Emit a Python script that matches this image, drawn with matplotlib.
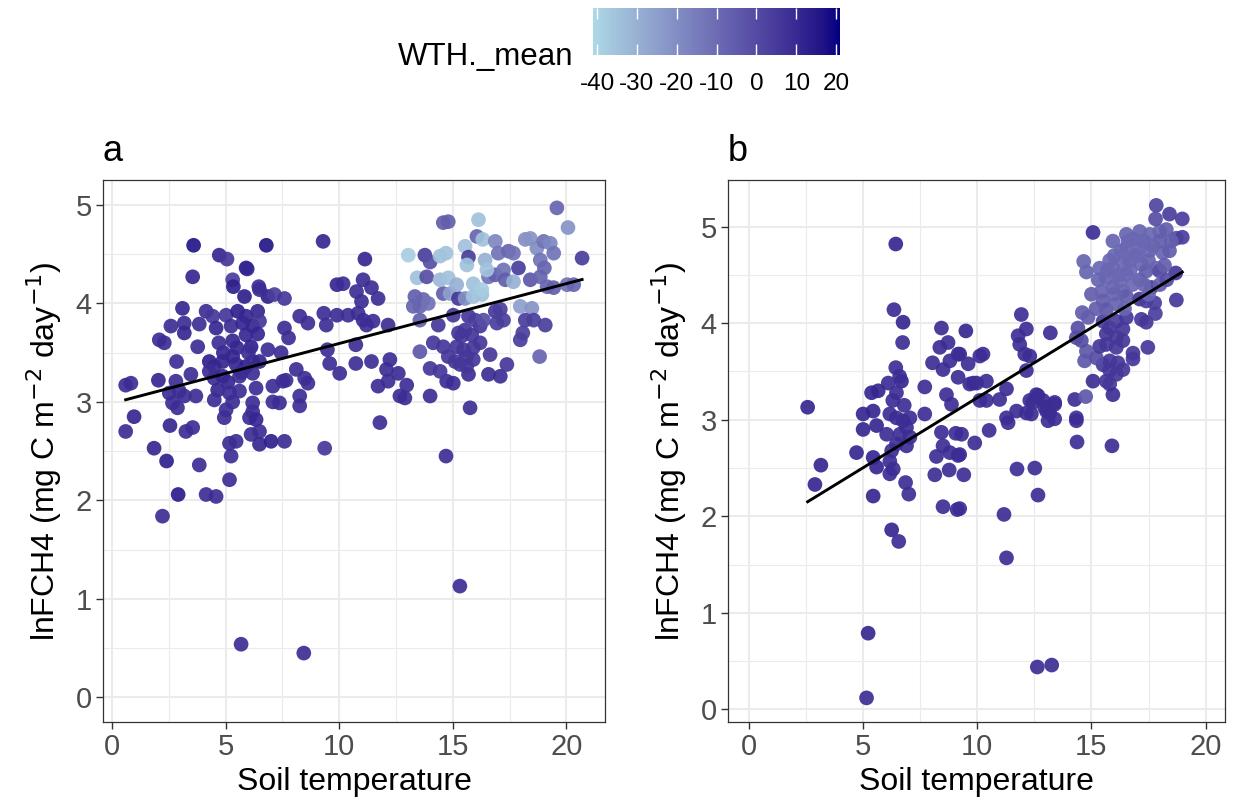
import numpy as np
import matplotlib
matplotlib.use("Agg")
import matplotlib.pyplot as plt
import matplotlib.colors as mcolors
from matplotlib.ticker import MultipleLocator

plt.rcParams['font.family'] = ['Liberation Sans', 'DejaVu Sans']

# ---- panel a: soil temperature, lnFCH4, WTH._mean
a_temp = [
    3.59, 6.79, 9.29, 4.72, 5.06, 5.9, 5.95, 3.55,
    5.31, 5.34, 6.46, 9.9, 5.83, 6.86, 7.15, 7.59,
    6.49, 3.1, 4.14, 4.43, 5.02, 5.53, 5.9, 6.41,
    8.26, 8.62, 9.32, 9.9, 10.39, 10.83, 2.59, 3.18,
    3.84, 4.58, 5.24, 5.75, 6.19, 6.49, 7.59, 7.77,
    9.43, 3.18, 2.08, 2.3, 5.31, 5.9, 6.41, 3.77,
    6.12, 6.86, 7.44, 9.48, 2.84, 4.28, 4.5, 4.87,
    5.31, 5.46, 5.9, 6.19, 6.49, 8.11, 9.58, 10.02,
    10.73, 4.5, 4.87, 5.61, 6.19, 7.66, 8.48, 4.9,
    5.5, 5.7, 5.1, 6.0, 4.7, 0.6, 0.83, 2.04,
    2.81, 3.47, 2.52, 2.96, 3.18, 2.66, 2.88, 3.69,
    4.28, 4.65, 4.5, 5.17, 5.31, 5.02, 4.94, 5.61,
    6.34, 6.19, 6.19, 6.05, 6.34, 7.08, 7.52, 7.08,
    7.37, 8.62, 8.26, 8.26, 0.97, 0.6, 2.55, 3.25,
    3.55, 1.85, 2.4, 3.84, 5.17, 5.46, 5.24, 5.17,
    6.12, 6.49, 6.49, 7.0, 7.59, 2.91, 4.14, 4.58,
    2.22, 9.36, 11.79, 15.76, 14.7, 14.0, 12.67, 12.89,
    11.71, 12.15, 12.97, 16.57, 17.09, 14.73, 15.02, 15.69,
    5.68, 8.44, 15.31, 10.73, 12.15, 11.05, 11.49, 11.05,
    11.42, 11.71, 11.13, 10.17, 10.76, 10.98, 11.2, 12.23,
    12.08, 12.6, 11.42, 14.14, 14.58, 14.8, 15.1, 15.32,
    15.61, 15.9, 16.2, 13.55, 14.0, 14.44, 16.64, 17.38,
    18.82, 15.83, 15.39, 15.17, 15.47, 15.9, 15.61, 15.25,
    15.54, 16.2, 13.55, 14.36, 15.02, 15.69, 15.98, 16.35,
    16.87, 17.09, 17.23, 16.94, 17.97, 18.48, 18.19, 18.56,
    19.07, 18.08, 17.97, 13.33, 13.7, 13.55, 13.26, 13.92,
    14.58, 14.88, 15.25, 15.54, 15.9, 16.28, 13.43, 13.85,
    14.44, 14.8, 15.17, 15.9, 16.28, 16.57, 16.87, 17.23,
    17.31, 17.67, 18.41, 18.85, 19.15, 19.44, 20.03, 20.32,
    19.58, 20.07, 14.58, 14.8, 16.13, 16.06, 16.32, 16.87,
    15.54, 13.04, 13.77, 14.0, 14.44, 14.7, 15.69, 15.62,
    16.42, 16.5, 17.0, 17.45, 17.67, 17.89, 18.19, 18.41,
    18.7, 19.0, 19.29, 19.44, 18.85, 19.03, 20.69,
]
a_flux = [
    4.59, 4.59, 4.63, 4.49, 4.45, 4.36, 4.35, 4.27,
    4.24, 4.17, 4.17, 4.19, 4.07, 4.07, 4.09, 4.05,
    4.14, 3.95, 3.92, 3.87, 3.88, 3.92, 3.87, 3.92,
    3.87, 3.8, 3.9, 3.88, 3.88, 3.9, 3.77, 3.8,
    3.79, 3.75, 3.77, 3.8, 3.77, 3.82, 3.75, 3.65,
    3.78, 3.7, 3.63, 3.6, 3.62, 3.68, 3.69, 3.56,
    3.56, 3.53, 3.5, 3.53, 3.41, 3.41, 3.36, 3.41,
    3.46, 3.38, 3.36, 3.41, 3.41, 3.33, 3.39, 3.29,
    3.39, 3.24, 3.26, 3.26, 3.29, 3.22, 3.24, 3.5,
    3.55, 3.3, 3.2, 3.5, 3.6, 3.17, 3.19, 3.22,
    3.21, 3.28, 3.09, 3.11, 3.06, 2.99, 2.94, 3.06,
    3.31, 3.12, 3.02, 3.09, 3.0, 2.92, 2.84, 3.11,
    3.14, 2.99, 2.9, 2.84, 2.82, 3.16, 3.21, 3.0,
    2.99, 3.19, 3.06, 2.96, 2.85, 2.7, 2.76, 2.7,
    2.74, 2.53, 2.4, 2.36, 2.58, 2.6, 2.45, 2.21,
    2.67, 2.7, 2.57, 2.6, 2.6, 2.06, 2.06, 2.04,
    1.84, 2.53, 2.79, 2.94, 2.45, 3.06, 3.06, 3.04,
    3.16, 3.21, 3.17, 3.28, 3.26, 3.21, 3.19, 3.28,
    0.54, 0.45, 1.13, 3.58, 3.78, 3.83, 3.82, 4.24,
    4.16, 4.05, 4.45, 4.2, 4.12, 4.02, 3.78, 3.43,
    3.33, 3.29, 3.41, 3.6, 3.56, 3.46, 3.41, 3.38,
    3.36, 3.43, 3.6, 3.51, 3.34, 3.31, 3.48, 3.38,
    3.46, 3.68, 3.67, 3.56, 3.53, 3.55, 3.46, 3.7,
    3.73, 3.77, 3.83, 3.78, 3.88, 3.87, 3.83, 3.83,
    3.92, 3.94, 3.83, 3.8, 3.97, 3.95, 3.83, 3.83,
    3.78, 3.7, 3.63, 4.07, 4.04, 3.97, 3.97, 4.0,
    4.1, 4.1, 4.05, 4.05, 4.07, 4.09, 4.26, 4.27,
    4.24, 4.26, 4.19, 4.2, 4.14, 4.27, 4.29, 4.34,
    4.24, 4.22, 4.24, 4.27, 4.17, 4.16, 4.19, 4.19,
    4.97, 4.77, 4.82, 4.83, 4.85, 4.68, 4.65, 4.63,
    4.58, 4.49, 4.49, 4.42, 4.48, 4.51, 4.47, 4.39,
    4.44, 4.34, 4.51, 4.53, 4.51, 4.36, 4.65, 4.66,
    4.56, 4.63, 4.61, 4.51, 4.44, 4.36, 4.46,
]
a_wth = [
    16, 16, 11, 11, 6, 14, 11, 11,
    4, 13, 9, 11, 13, 13, 4, 6,
    9, 11, 9, 6, 6, 13, 11, 11,
    9, 9, 9, 9, 9, 9, 9, 9,
    9, 11, 9, 11, 11, 6, 9, 9,
    9, 11, 9, 9, 11, 11, 11, 9,
    13, 9, 9, 9, 9, 13, 11, 11,
    11, 11, 13, 9, 11, 9, 9, 9,
    9, 9, 11, 9, 9, 9, 9, 11,
    11, 9, 11, 9, 9, 9, 9, 11,
    9, 9, 9, 9, 9, 9, 9, 9,
    9, 11, 9, 9, 9, 9, 9, 9,
    9, 9, 9, 9, 11, 9, 9, 9,
    9, 9, 9, 9, 11, 9, 11, 9,
    9, 11, 13, 9, 9, 9, 9, 9,
    9, 9, 11, 13, 9, 14, 9, 9,
    9, 6, 9, 9, 9, 9, 9, 9,
    9, 9, 9, 9, 9, 9, 9, 9,
    9, 9, 9, 9, 9, 9, 9, 9,
    9, 9, 11, 9, 9, 9, 9, 9,
    9, 9, 9, 6, 6, 6, 6, 6,
    6, 6, 6, -4, 6, 6, 6, 6,
    -8, 6, 6, 6, 6, 6, 6, 6,
    6, 6, -6, 6, 6, 6, 4, -1,
    6, 4, 4, 4, -25, -22, 4, 4,
    4, 4, 4, -6, -8, -8, -8, -12,
    -6, -25, 6, -20, -35, -35, -35, -1,
    -32, -35, -30, -35, -38, -12, -6, -12,
    -6, -30, -4, -8, -8, -6, -12, -8,
    -8, -22, -6, -6, -35, -8, -35, -18,
    -35, -38, 4, -1, -35, -35, 4, -35,
    -30, -35, -12, -8, -12, 4, -20, -22,
    -20, -12, -18, -12, -12, -8, 4,
]

# ---- panel b
b_temp = [
    6.43, 6.35, 6.75, 6.73, 8.43, 9.50, 8.36, 8.72,
    8.04, 8.50, 8.80, 9.16, 9.60, 10.11, 6.43, 6.68,
    6.10, 6.46, 5.37, 5.66, 7.70, 8.65, 9.16, 9.67,
    9.97, 2.57, 3.15, 2.89, 4.71, 5.00, 5.44, 5.00,
    5.59, 6.03, 6.17, 6.46, 6.75, 7.05, 6.90, 6.61,
    7.05, 6.46, 6.90, 6.25, 5.44, 5.59, 6.17, 6.32,
    6.17, 5.44, 6.86, 7.00, 7.70, 8.43, 9.06, 8.50,
    8.21, 8.80, 9.16, 8.14, 8.77, 9.41, 8.50, 9.12,
    6.25, 6.56, 9.89, 8.87, 12.15, 12.37, 12.66, 12.44,
    12.95, 13.17, 13.39, 13.10, 13.39, 11.35, 10.52, 9.31,
    9.23, 9.23, 14.34, 14.37, 15.07, 15.80, 15.94, 15.90,
    11.74, 12.52, 12.66, 11.17, 11.28, 5.22, 5.15, 12.63,
    13.26, 11.93, 12.15, 11.79, 11.86, 12.08, 12.30, 12.15,
    13.20, 9.23, 10.25, 9.82, 10.40, 11.28, 10.98, 10.40,
    10.11, 12.59, 12.30, 12.88, 13.39, 11.72, 13.03, 14.27,
    14.75, 11.28, 14.34, 15.65, 15.51, 15.80, 16.16, 16.38,
    15.80, 16.09, 14.78, 14.70, 15.22, 17.47, 16.82, 16.82,
    15.65, 16.09, 16.38, 15.65, 16.09, 15.36, 14.41, 14.34,
    14.56, 14.60, 14.85, 15.51, 15.80, 16.09, 16.53, 16.38,
    17.19, 17.40, 15.00, 15.44, 15.94, 16.38, 15.51, 15.65,
    16.09, 16.53, 17.11, 17.40, 17.77, 18.72, 15.65, 16.24,
    16.53, 17.11, 17.62, 14.66, 14.78, 15.36, 15.94, 16.38,
    16.67, 17.19, 17.40, 17.84, 17.99, 18.69, 16.53, 17.11,
    17.55, 18.13, 18.42, 15.07, 15.94, 16.53, 16.82, 17.11,
    17.55, 17.99, 18.28, 18.72, 18.98, 17.84, 18.42, 18.98,
    17.81, 16.0, 16.9, 17.5, 16.2, 17.3, 18.0, 6.3,
    6.8, 6.6, 15.3, 15.8, 16.3, 16.7, 17.0, 17.3,
    17.7, 18.2, 18.5, 16.0, 15.7, 16.8, 17.5, 18.0,
    16.45, 15.2, 17.8, 18.3, 16.6, 17.2,
]
b_flux = [
    4.82, 4.14, 4.01, 3.80, 3.95, 3.92, 3.75, 3.80,
    3.59, 3.52, 3.61, 3.68, 3.58, 3.66, 3.54, 3.40,
    3.38, 3.28, 3.28, 3.30, 3.34, 3.26, 3.44, 3.37,
    3.38, 3.13, 2.53, 2.33, 2.66, 3.06, 3.09, 2.90,
    2.94, 2.85, 3.06, 3.02, 2.99, 3.02, 2.92, 2.85,
    2.82, 2.75, 2.73, 2.68, 2.61, 2.51, 2.57, 2.49,
    2.44, 2.21, 2.35, 2.23, 3.06, 2.87, 2.86, 2.73,
    2.62, 2.66, 2.63, 2.43, 2.48, 2.43, 2.10, 2.07,
    1.86, 1.74, 2.76, 3.16, 3.07, 3.06, 3.25, 3.18,
    3.13, 3.07, 3.16, 2.99, 3.01, 2.97, 2.89, 2.85,
    2.64, 2.08, 2.99, 2.77, 3.40, 3.37, 3.26, 2.73,
    2.49, 2.50, 2.22, 2.02, 1.57, 0.79, 0.12, 0.44,
    0.46, 4.09, 3.94, 3.87, 3.78, 3.68, 3.66, 3.51,
    3.90, 3.68, 3.68, 3.38, 3.40, 3.32, 3.21, 3.20,
    3.20, 3.26, 3.20, 3.20, 3.18, 3.09, 3.09, 3.21,
    3.24, 3.02, 3.02, 3.40, 3.57, 3.61, 3.59, 3.52,
    3.51, 3.47, 3.71, 3.61, 3.64, 3.75, 3.69, 3.63,
    3.89, 3.85, 3.82, 3.78, 3.75, 3.76, 3.95, 3.85,
    3.82, 4.11, 4.06, 4.02, 3.95, 4.02, 4.06, 3.94,
    4.04, 4.01, 4.30, 4.33, 4.37, 4.33, 4.23, 4.14,
    4.20, 4.28, 4.25, 4.23, 4.21, 4.24, 4.47, 4.44,
    4.51, 4.45, 4.37, 4.64, 4.53, 4.57, 4.57, 4.63,
    4.64, 4.61, 4.54, 4.57, 4.54, 4.52, 4.78, 4.78,
    4.75, 4.73, 4.75, 4.94, 4.85, 4.92, 4.87, 4.95,
    4.92, 4.95, 4.97, 4.88, 4.89, 5.22, 5.13, 5.08,
    5.08, 4.70, 4.70, 4.65, 4.50, 4.85, 4.85, 3.20,
    3.15, 3.45, 4.45, 4.65, 4.75, 4.55, 4.70, 4.40,
    4.80, 4.60, 4.85, 4.30, 4.55, 4.40, 4.30, 4.40,
    4.15, 4.15, 4.10, 4.45, 4.85, 4.85,
]
b_wth = [
    11, 9, 11, 9, 9, 11, 9, 9,
    9, 9, 9, 9, 9, 9, 9, 11,
    9, 9, 11, 11, 9, 9, 9, 9,
    9, 11, 11, 11, 11, 11, 11, 11,
    11, 9, 9, 9, 9, 9, 9, 9,
    9, 9, 9, 9, 11, 11, 9, 9,
    9, 11, 9, 9, 9, 9, 9, 9,
    9, 9, 9, 9, 9, 9, 9, 9,
    11, 9, 9, 9, 9, 9, 9, 9,
    9, 9, 9, 9, 9, 9, 9, 9,
    9, 9, 9, 9, 9, 6, 9, 9,
    9, 9, 9, 9, 9, 11, 9, 9,
    9, 9, 9, 9, 9, 9, 9, 9,
    9, 9, 9, 9, 9, 9, 9, 9,
    9, 9, 9, 9, 9, 9, 9, 9,
    -4, 9, 9, 6, 6, 6, 6, 6,
    6, 6, -4, -4, -1, 6, 6, 6,
    6, 6, 6, 6, 6, 6, -1, -1,
    -1, -6, -6, 4, 6, 4, 6, 6,
    6, 6, -6, -8, -8, -8, -6, -4,
    -8, -6, 6, 4, 4, 6, -8, -9,
    -9, -6, 6, -8, -8, -9, -9, -9,
    -9, -9, -6, -8, -1, 6, -9, -9,
    -9, -8, -6, 9, -8, -8, -9, -8,
    -9, -8, -6, -1, 4, 2, 4, 4,
    -1, -9, -9, -8, -9, -8, -6, 9,
    9, 9, -8, -9, -9, -9, -9, -8,
    -8, -6, -6, -8, -9, -9, -8, -6,
    -8, -6, 4, -1, -9, -9,
]

wth_low, wth_high = -41, 21
wth_ticks = [-40, -30, -20, -10, 0, 10, 20]

# ---- lightblue -> navy gradient interpolated in Lab (like ggplot's default)
M = np.array([[0.4124, 0.3576, 0.1805],
              [0.2126, 0.7152, 0.0722],
              [0.0193, 0.1192, 0.9505]])
WHITE = np.array([0.95047, 1.0, 1.08883])


def to_lab(col):
    c = np.array(mcolors.to_rgb(col))
    c = np.where(c > 0.04045, ((c + 0.055) / 1.055) ** 2.4, c / 12.92)
    xyz = M @ c / WHITE
    f = np.where(xyz > 0.008856, np.cbrt(xyz), 7.787 * xyz + 16 / 116)
    return np.array([116 * f[1] - 16, 500 * (f[0] - f[1]), 200 * (f[1] - f[2])])


def from_lab(lab):
    fy = (lab[0] + 16) / 116
    f = np.array([fy + lab[1] / 500, fy, fy - lab[2] / 200])
    xyz = np.where(f ** 3 > 0.008856, f ** 3, (f - 16 / 116) / 7.787) * WHITE
    c = np.linalg.inv(M) @ xyz
    c = np.clip(c, 0, 1)
    c = np.where(c > 0.0031308, 1.055 * c ** (1 / 2.4) - 0.055, 12.92 * c)
    return np.clip(c, 0, 1)


lab_lo, lab_hi = to_lab('lightblue'), to_lab('navy')
grad = [from_lab(lab_lo + t * (lab_hi - lab_lo)) for t in np.linspace(0, 1, 128)]
cmap = mcolors.LinearSegmentedColormap.from_list('wth', grad)
norm = mcolors.Normalize(vmin=wth_low, vmax=wth_high)

fig = plt.figure(figsize=(12.33, 8.11), dpi=100)

ylabel = 'lnFCH4 (mg C m$^{-2}$ day$^{-1}$)'


def panel(rect, xs, ys, ws, title, xlim, ylim):
    ax = fig.add_axes(rect)
    ax.set_axisbelow(True)
    ax.scatter(xs, ys, c=ws, cmap=cmap, norm=norm, s=112, alpha=0.92,
               linewidths=0, zorder=2)
    k, b = np.polyfit(xs, ys, 1)
    xx = np.array([min(xs), max(xs)])
    ax.plot(xx, k * xx + b, color='black', lw=2.1, zorder=3)
    ax.set_xlim(*xlim)
    ax.set_ylim(*ylim)
    ax.xaxis.set_major_locator(MultipleLocator(5))
    ax.xaxis.set_minor_locator(MultipleLocator(2.5))
    ax.yaxis.set_major_locator(MultipleLocator(1))
    ax.yaxis.set_minor_locator(MultipleLocator(0.5))
    ax.grid(which='major', color='#EBEBEB', lw=1.5)
    ax.grid(which='minor', color='#EBEBEB', lw=0.8)
    ax.tick_params(which='minor', length=0)
    ax.tick_params(which='major', length=5, width=1, color='#333333',
                   labelsize=21, labelcolor='#4D4D4D', pad=3)
    for sp in ax.spines.values():
        sp.set_color('#333333')
        sp.set_linewidth(0.9)
    ax.set_xlabel('Soil temperature', fontsize=23, labelpad=4)
    ax.set_ylabel(ylabel, fontsize=23, labelpad=8)
    ax.set_title(title, loc='left', fontsize=26, pad=14)
    return ax


panel([0.0835, 0.1097, 0.4072, 0.668], a_temp, a_flux, a_wth, 'a',
      (-0.4, 21.7), (-0.25, 5.25))
panel([0.5904, 0.1097, 0.4031, 0.668], b_temp, b_flux, b_wth, 'b',
      (-0.92, 20.85), (-0.13, 5.48))

# ---- colour bar legend on top
cax = fig.add_axes([0.481, 0.932, 0.2003, 0.058])
sm = plt.cm.ScalarMappable(norm=norm, cmap=cmap)
cb = fig.colorbar(sm, cax=cax, orientation='horizontal', ticks=wth_ticks)
cb.outline.set_visible(False)
cax.tick_params(axis='x', direction='in', top=True, bottom=True, length=8,
                width=1, color='white', labelsize=17.5, labelcolor='black', pad=13)
cb.ax.set_xticklabels([str(t) for t in wth_ticks])
fig.text(0.323, 0.93, 'WTH._mean', fontsize=22.5, ha='left', va='center')

fig.savefig('out.png', dpi=100)
